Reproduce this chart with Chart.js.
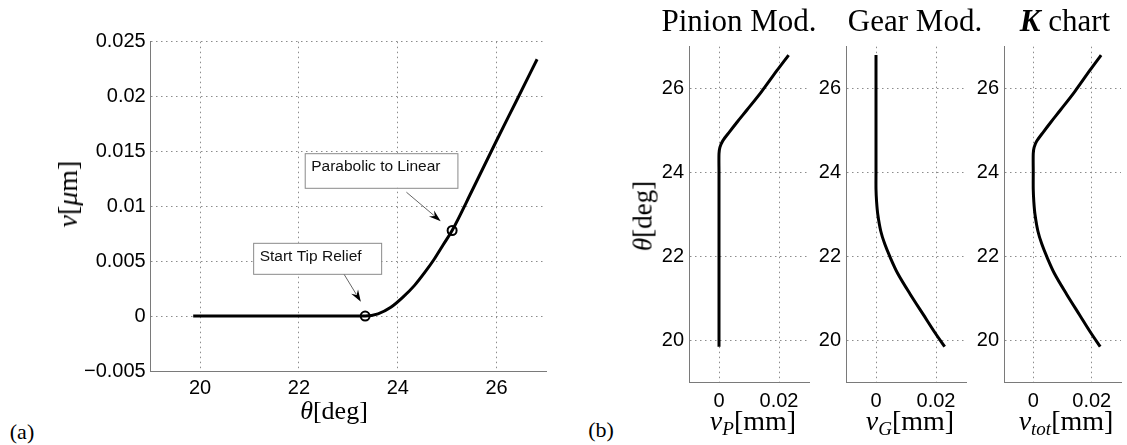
<!DOCTYPE html>
<html>
<head>
<meta charset="utf-8">
<script src="https://cdn.jsdelivr.net/npm/chart.js@4.4.1/dist/chart.umd.min.js"></script>
<style>
  body { margin: 0; width: 1127px; height: 445px; background: #fff; position: relative; overflow: hidden; font-family: 'Liberation Serif', 'Times New Roman', serif; color: #000; }
  .box { position: absolute; }
  .lbl { position: absolute; transform: translate(-50%, -50%); white-space: nowrap; line-height: 1; }
  .rot { transform: translate(-50%, -50%) rotate(-90deg); }
  sub { font-size: 0.68em; vertical-align: -0.28em; line-height: 0; font-style: italic; }
</style>
</head>
<body>
<div class="box" style="left:0;top:0;width:556px;height:400px"><canvas id="chartA"></canvas></div>
<div class="box" style="left:644px;top:0;width:171px;height:445px"><canvas id="chartP"></canvas></div>
<div class="box" style="left:801px;top:0;width:171px;height:445px"><canvas id="chartG"></canvas></div>
<div class="box" style="left:959px;top:0;width:168px;height:445px"><canvas id="chartK"></canvas></div>

<div class="lbl" style="left:22px;top:432px;font-size:22px">(a)</div>
<div class="lbl" style="left:334px;top:411px;font-size:26px"><i>θ</i>[deg]</div>
<div class="lbl rot" style="left:68px;top:194px;font-size:28px"><i>v</i>[<i>μ</i>m]</div>

<div class="lbl" style="left:601px;top:430px;font-size:22px">(b)</div>
<div class="lbl rot" style="left:643px;top:216px;font-size:27px"><i>θ</i>[deg]</div>
<div class="lbl" style="left:739px;top:20px;font-size:31px">Pinion Mod.</div>
<div class="lbl" style="left:915px;top:20px;font-size:31px">Gear Mod.</div>
<div class="lbl" style="left:1065px;top:20px;font-size:31px"><b><i>K</i></b> chart</div>
<div class="lbl" style="left:753px;top:421px;font-size:28px"><i>v</i><sub>P</sub>[mm]</div>
<div class="lbl" style="left:910px;top:421px;font-size:28px"><i>v</i><sub>G</sub>[mm]</div>
<div class="lbl" style="left:1066px;top:421px;font-size:28px"><i>v</i><sub>tot</sub>[mm]</div>

<script>
// (a) tip relief profile v(theta)
const thetaA = [19.86, 21, 22, 23, 23.34, 23.6, 23.86, 24.1, 24.34, 24.55, 24.74, 24.92, 25.1, 25.5, 26, 26.4, 26.82];
const vA = [0, 0, 0, 0, 0, 0.0002, 0.0008, 0.0017, 0.0028, 0.004, 0.0052, 0.0065, 0.0078, 0.0114, 0.016, 0.0196, 0.0234];
const markTheta = [23.34, 25.1];
const markV = [0, 0.0078];
const markNames = ['Start Tip Relief', 'Parabolic to Linear'];
const xTicksA = [20, 22, 24, 26];
const yTicksA = [-0.005, 0, 0.005, 0.01, 0.015, 0.02, 0.025];
const yTickLabelsA = ['\u22120.005', '0', '0.005', '0.01', '0.015', '0.02', '0.025'];

// (b) pinion, gear and total modification against theta
const thetaP = [19.85, 21, 22, 23, 24, 24.45, 24.6, 24.75, 24.97, 25.2, 25.49, 25.93, 26.44, 26.8];
const vP = [0, 0, 0, 0, 0, 0, 0.0003, 0.0012, 0.0035, 0.006, 0.0093, 0.0142, 0.0194, 0.0232];
const thetaG = [19.85, 20.2, 20.6, 21.1, 21.6, 22.0, 22.3, 22.6, 23.0, 23.3, 23.6, 24, 25, 26, 26.8];
const vG = [0.0229, 0.0195, 0.0159, 0.0114, 0.0072, 0.0046, 0.0029, 0.0016, 0.0006, 0.0002, 0, 0, 0, 0, 0];
const thetaK = [19.85, 20.2, 20.6, 21.1, 21.6, 22.0, 22.3, 22.6, 23.0, 23.3, 23.6, 24, 24.45, 24.6, 24.75, 24.97, 25.2, 25.49, 25.93, 26.44, 26.8];
const vK = [0.0229, 0.0195, 0.0159, 0.0114, 0.0072, 0.0046, 0.0029, 0.0016, 0.0006, 0.0002, 0, 0, 0, 0.0003, 0.0012, 0.0035, 0.006, 0.0093, 0.0142, 0.0194, 0.0232];
const thetaTicksB = [20, 22, 24, 26];
const vTicksB = [0, 0.02];
const vTickLabelsB = ['0', '0.02'];

Chart.defaults.font.family = "'Liberation Sans', Arial, sans-serif";
Chart.defaults.font.size = 20;
Chart.defaults.color = '#000';

const gridOpts = { color: '#8c8c8c', lineWidth: 1, drawTicks: false };
const borderOpts = { display: true, color: '#7a7a7a', width: 1, dash: [1.5, 3.5] };

function pts(xs, ys) {
    return xs.map((x, i) => ({ x: x, y: ys[i] }));
}

// text boxes with arrows pointing at the two marked points
const notePlugin = {
    id: 'notes',
    afterDatasetsDraw(chart) {
        const ctx = chart.ctx;
        const sx = chart.scales.x, sy = chart.scales.y;
        const layout = [
            { box: [-112, -73.3, 128, 31], tail: [-21, -41.7], tip: [-4.3, -14.3] },
            { box: [-147.4, -77.3, 152.7, 34.6], tail: [-45.7, -38.3], tip: [-11.4, -9.3] }
        ];
        layout.forEach((n, i) => {
            const px = sx.getPixelForValue(markTheta[i]);
            const py = sy.getPixelForValue(markV[i]);
            ctx.save();
            ctx.fillStyle = '#fff';
            ctx.strokeStyle = '#8a8a8a';
            ctx.lineWidth = 1;
            ctx.fillRect(px + n.box[0], py + n.box[1], n.box[2], n.box[3]);
            ctx.strokeRect(px + n.box[0] + 0.5, py + n.box[1] + 0.5, n.box[2], n.box[3]);
            ctx.fillStyle = '#111';
            ctx.font = "15.5px 'Liberation Sans', Arial, sans-serif";
            ctx.textBaseline = 'middle';
            ctx.textAlign = 'left';
            ctx.fillText(markNames[i], px + n.box[0] + 6.5, py + n.box[1] + 13.8);
            // arrow
            const x0 = px + n.tail[0], y0 = py + n.tail[1];
            const x1 = px + n.tip[0], y1 = py + n.tip[1];
            const a = Math.atan2(y1 - y0, x1 - x0);
            ctx.strokeStyle = '#666';
            ctx.beginPath();
            ctx.moveTo(x0, y0);
            ctx.lineTo(x1 - 9 * Math.cos(a), y1 - 9 * Math.sin(a));
            ctx.stroke();
            ctx.fillStyle = '#000';
            ctx.beginPath();
            ctx.moveTo(x1, y1);
            ctx.lineTo(x1 - 12 * Math.cos(a) + 4 * Math.sin(a), y1 - 12 * Math.sin(a) - 4 * Math.cos(a));
            ctx.lineTo(x1 - 8 * Math.cos(a), y1 - 8 * Math.sin(a));
            ctx.lineTo(x1 - 12 * Math.cos(a) - 4 * Math.sin(a), y1 - 12 * Math.sin(a) + 4 * Math.cos(a));
            ctx.closePath();
            ctx.fill();
            ctx.restore();
        });
    }
};

// Chart (a)
new Chart(document.getElementById('chartA'), {
    type: 'scatter',
    data: {
        datasets: [{
            data: pts(thetaA, vA),
            showLine: true,
            borderColor: '#000',
            borderWidth: 3,
            pointRadius: 0,
            cubicInterpolationMode: 'monotone'
        }, {
            data: pts(markTheta, markV),
            showLine: false,
            pointRadius: 4.5,
            pointBorderWidth: 2,
            pointBorderColor: '#000',
            pointBackgroundColor: 'rgba(0,0,0,0)'
        }]
    },
    options: {
        responsive: true,
        maintainAspectRatio: false,
        animation: false,
        layout: { padding: { left: 0, top: 41.7, right: 10, bottom: 0 } },
        plugins: { legend: { display: false }, tooltip: { enabled: false } },
        scales: {
            x: {
                type: 'linear', min: 19, max: 27,
                afterBuildTicks: s => { s.ticks = xTicksA.map(v => ({ value: v })); },
                afterFit: s => { s.height = 29; },
                grid: gridOpts, border: borderOpts,
                ticks: { padding: 5, maxRotation: 0 }
            },
            y: {
                type: 'linear', min: -0.005, max: 0.025,
                afterBuildTicks: s => { s.ticks = yTicksA.map(v => ({ value: v })); },
                afterFit: s => { s.width = 150.7; },
                grid: gridOpts, border: borderOpts,
                ticks: { padding: 5, callback: (v, i) => yTickLabelsA[i] }
            }
        }
    },
    plugins: [notePlugin]
});

// Charts (b): v on x, theta on y
function panel(id, theta, v) {
    new Chart(document.getElementById(id), {
        type: 'scatter',
        data: {
            datasets: [{
                data: pts(v, theta),
                showLine: true,
                borderColor: '#000',
                borderWidth: 3,
                pointRadius: 0,
                tension: 0.3
            }]
        },
        options: {
            responsive: true,
            maintainAspectRatio: false,
            animation: false,
            layout: { padding: { left: 0, top: 46.7, right: 171 - 45 - 120, bottom: 0 } },
            plugins: { legend: { display: false }, tooltip: { enabled: false } },
            scales: {
                x: {
                    type: 'linear', min: -0.01, max: 0.03,
                    afterBuildTicks: s => { s.ticks = vTicksB.map(t => ({ value: t })); },
                    afterFit: s => { s.height = 445 - 382.3; },
                    grid: gridOpts, border: borderOpts,
                    ticks: { padding: 7, maxRotation: 0, callback: (t, i) => vTickLabelsB[i] }
                },
                y: {
                    type: 'linear', min: 19, max: 27,
                    afterBuildTicks: s => { s.ticks = thetaTicksB.map(t => ({ value: t })); },
                    afterFit: s => { s.width = 45; },
                    grid: gridOpts, border: borderOpts,
                    ticks: { padding: 5 }
                }
            }
        }
    });
}

panel('chartP', thetaP, vP);
panel('chartG', thetaG, vG);
panel('chartK', thetaK, vK);
</script>
</body>
</html>
